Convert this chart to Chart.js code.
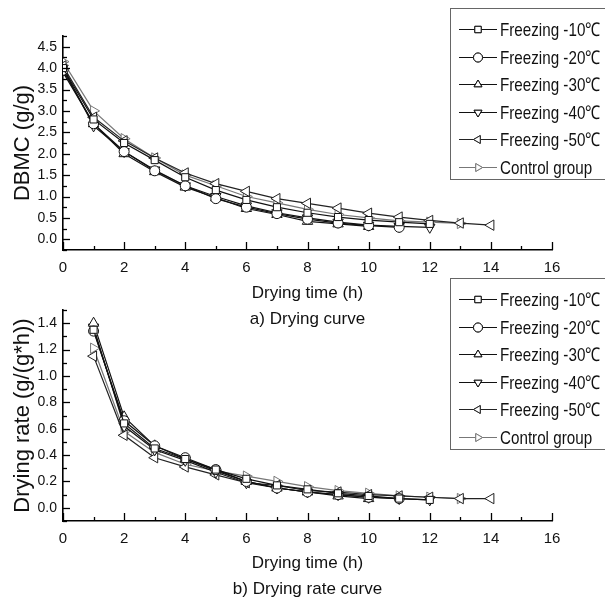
<!DOCTYPE html>
<html>
<head>
<meta charset="utf-8">
<script src="https://cdn.jsdelivr.net/npm/chart.js@4.4.0/dist/chart.umd.min.js"></script>
<style>
  html, body { margin: 0; padding: 0; background: #fff; }
  #wrap { position: relative; width: 605px; height: 599px; overflow: hidden; }
  #c1 { position: absolute; left: 0; top: 0; }
  #c2 { position: absolute; left: 0; top: 270px; }
</style>
</head>
<body>
<div id="wrap">
  <canvas id="c1" width="605" height="335"></canvas>
  <canvas id="c2" width="605" height="335"></canvas>
</div>
<script>
var seriesNames = ['Freezing -10℃', 'Freezing -20℃', 'Freezing -30℃', 'Freezing -40℃', 'Freezing -50℃', 'Control group'];

// a) drying curve, hours 0..14
var hours = [0, 1, 2, 3, 4, 5, 6, 7, 8, 9, 10, 11, 12, 13, 14];
var dbmc10 = [4.00, 2.80, 2.25, 1.85, 1.45, 1.15, 0.92, 0.75, 0.62, 0.52, 0.45, 0.40, 0.36];
var dbmc20 = [3.95, 2.70, 2.05, 1.60, 1.25, 0.95, 0.75, 0.60, 0.47, 0.38, 0.32, 0.28];
var dbmc30 = [3.90, 2.70, 2.00, 1.58, 1.22, 0.97, 0.72, 0.58, 0.42, 0.36, 0.30];
var dbmc40 = [4.00, 2.65, 2.05, 1.62, 1.25, 1.00, 0.78, 0.62, 0.50, 0.40, 0.33, 0.30, 0.28];
var dbmc50 = [4.05, 2.85, 2.30, 1.90, 1.55, 1.30, 1.12, 0.95, 0.84, 0.73, 0.61, 0.52, 0.44, 0.38, 0.33];
var dbmcCtrl = [4.15, 3.00, 2.35, 1.90, 1.50, 1.25, 1.00, 0.85, 0.70, 0.58, 0.50, 0.43, 0.40, 0.37];

// b) drying rate curve, hours 1..14
var rateHours = [1, 2, 3, 4, 5, 6, 7, 8, 9, 10, 11, 12, 13, 14];
var rate10 = [1.35, 0.64, 0.45, 0.37, 0.29, 0.22, 0.17, 0.14, 0.11, 0.09, 0.07, 0.06];
var rate20 = [1.34, 0.66, 0.47, 0.38, 0.29, 0.20, 0.15, 0.12, 0.10, 0.08, 0.07];
var rate30 = [1.40, 0.69, 0.47, 0.37, 0.28, 0.20, 0.15, 0.12, 0.09, 0.07];
var rate40 = [1.37, 0.62, 0.44, 0.36, 0.27, 0.19, 0.15, 0.12, 0.10, 0.08, 0.07, 0.06];
var rate50 = [1.15, 0.55, 0.38, 0.31, 0.25, 0.19, 0.17, 0.13, 0.12, 0.10, 0.09, 0.08, 0.07, 0.07];
var rateCtrl = [1.21, 0.58, 0.42, 0.33, 0.28, 0.24, 0.20, 0.16, 0.13, 0.11, 0.09, 0.08, 0.07];

var xTicks = [0, 2, 4, 6, 8, 10, 12, 14, 16];
var dbmcTicks = [0.0, 0.5, 1.0, 1.5, 2.0, 2.5, 3.0, 3.5, 4.0, 4.5];
var rateTicks = [0.0, 0.2, 0.4, 0.6, 0.8, 1.0, 1.2, 1.4];

var sans = "'Liberation Sans', Arial, sans-serif";

var markers = [
  { style: 'rect', rot: 0 },
  { style: 'circle', rot: 0 },
  { style: 'triangle', rot: 0 },
  { style: 'triangle', rot: 180 },
  { style: 'triangle', rot: 270 },
  { style: 'triangle', rot: 90 }
];
var lineColors = ['#111', '#111', '#111', '#111', '#222', '#777'];

function toPoints(xs, ys) {
  return ys.map(function (v, i) { return { x: xs[i], y: v }; });
}

function buildSets(xs, lists) {
  return lists.map(function (ys, i) {
    return {
      label: seriesNames[i],
      data: toPoints(xs, ys),
      borderColor: lineColors[i],
      borderWidth: 1.2,
      pointStyle: markers[i].style,
      pointRotation: markers[i].rot,
      pointRadius: markers[i].style === 'triangle' ? 6 : 5,
      pointBackgroundColor: '#fff',
      pointBorderColor: lineColors[i],
      pointBorderWidth: 1,
      tension: 0
    };
  });
}

// inward tick marks on both axes
var innerTicks = {
  id: 'innerTicks',
  afterDraw: function (chart, args, o) {
    var ctx = chart.ctx, xs = chart.scales.x, ys = chart.scales.y, a = chart.chartArea;
    ctx.save();
    ctx.strokeStyle = '#000';
    ctx.lineWidth = 1.3;
    var n = Math.round((xs.max - xs.min) / o.xMinor);
    for (var i = 0; i <= n; i++) {
      var v = xs.min + i * o.xMinor;
      var px = Math.round(xs.getPixelForValue(v)) + 0.5;
      var len = (Math.abs(v / o.xMajor - Math.round(v / o.xMajor)) < 1e-6) ? 8 : 4;
      ctx.beginPath(); ctx.moveTo(px, a.bottom); ctx.lineTo(px, a.bottom - len); ctx.stroke();
    }
    n = Math.round((ys.max - ys.min) / o.yMinor);
    for (i = 0; i <= n; i++) {
      v = ys.min + i * o.yMinor;
      var py = Math.round(ys.getPixelForValue(v)) + 0.5;
      len = (Math.abs(v / o.yMajor - Math.round(v / o.yMajor)) < 1e-6) ? 7 : 4;
      ctx.beginPath(); ctx.moveTo(a.left, py); ctx.lineTo(a.left + len, py); ctx.stroke();
    }
    ctx.restore();
  }
};

// legend box with line + marker samples (text squeezed like the original narrow face)
var boxLegend = {
  id: 'boxLegend',
  afterDraw: function (chart) {
    var ctx = chart.ctx;
    ctx.save();
    ctx.strokeStyle = '#666';
    ctx.lineWidth = 1;
    ctx.strokeRect(450.5, 8.5, 200, 171);
    ctx.font = '19px ' + sans;
    ctx.textBaseline = 'middle';
    chart.data.datasets.forEach(function (ds, i) {
      var y = Math.round(29 + i * 27.6) + 0.5;
      ctx.strokeStyle = ds.borderColor;
      ctx.lineWidth = 1;
      ctx.beginPath(); ctx.moveTo(459, y); ctx.lineTo(497, y); ctx.stroke();
      ctx.fillStyle = '#fff';
      Chart.helpers.drawPoint(ctx, { pointStyle: ds.pointStyle, rotation: ds.pointRotation, radius: 4.5, borderWidth: 1 }, 478, y);
      ctx.fill(); ctx.stroke();
      ctx.save();
      ctx.translate(500, y + 1);
      ctx.scale(0.8, 1);
      ctx.fillStyle = '#111';
      ctx.fillText(ds.label, 0, 0);
      ctx.restore();
    });
    ctx.restore();
  }
};

function makeChart(id, sets, yMin, yMax, yTickVals, yTitle, xTitle, topPad, xHeight) {
  return new Chart(document.getElementById(id), {
    type: 'line',
    data: { datasets: sets },
    plugins: [innerTicks, boxLegend],
    options: {
      responsive: false,
      animation: false,
      layout: { padding: { top: topPad, right: 53, left: 0, bottom: 0 } },
      scales: {
        x: {
          type: 'linear',
          min: 0, max: 16,
          afterBuildTicks: function (s) { s.ticks = xTicks.map(function (v) { return { value: v }; }); },
          afterFit: function (s) { s.height = xHeight; },
          grid: { display: false, drawTicks: false },
          border: { display: true, color: '#000', width: 1.6 },
          ticks: { color: '#111', padding: 9, maxRotation: 0, font: { family: sans, size: 15 } },
          title: {
            display: true, text: xTitle, color: '#111',
            padding: { top: 0, bottom: 3 },
            font: { family: sans, size: 17, lineHeight: '26px' }
          }
        },
        y: {
          min: yMin, max: yMax,
          afterBuildTicks: function (s) { s.ticks = yTickVals.map(function (v) { return { value: v }; }); },
          afterFit: function (s) { s.width = 63; },
          grid: { display: false, drawTicks: false },
          border: { display: true, color: '#000', width: 1.6 },
          ticks: { color: '#111', padding: 6, font: { family: sans, size: 14 },
                   callback: function (v) { return v.toFixed(1); } },
          title: {
            display: true, text: yTitle, color: '#111',
            padding: { top: 10, bottom: 0 },
            font: { family: sans, size: 22 }
          }
        }
      },
      plugins: {
        legend: { display: false },
        tooltip: { enabled: false }
      }
    }
  });
}

var topChart = makeChart('c1',
  buildSets(hours, [dbmc10, dbmc20, dbmc30, dbmc40, dbmc50, dbmcCtrl]),
  -0.25, 4.75, dbmcTicks,
  'DBMC (g/g)', ['Drying time (h)', 'a) Drying curve'], 36, 85);
topChart.options.plugins.innerTicks = { xMinor: 1, xMajor: 2, yMinor: 0.25, yMajor: 0.5 };
topChart.update();

var botChart = makeChart('c2',
  buildSets(rateHours, [rate10, rate20, rate30, rate40, rate50, rateCtrl]),
  -0.1, 1.5, rateTicks,
  'Drying rate (g/(g*h))', ['Drying time (h)', 'b) Drying rate curve'], 40, 84);
botChart.options.plugins.innerTicks = { xMinor: 1, xMajor: 2, yMinor: 0.1, yMajor: 0.2 };
botChart.update();
</script>
</body>
</html>
